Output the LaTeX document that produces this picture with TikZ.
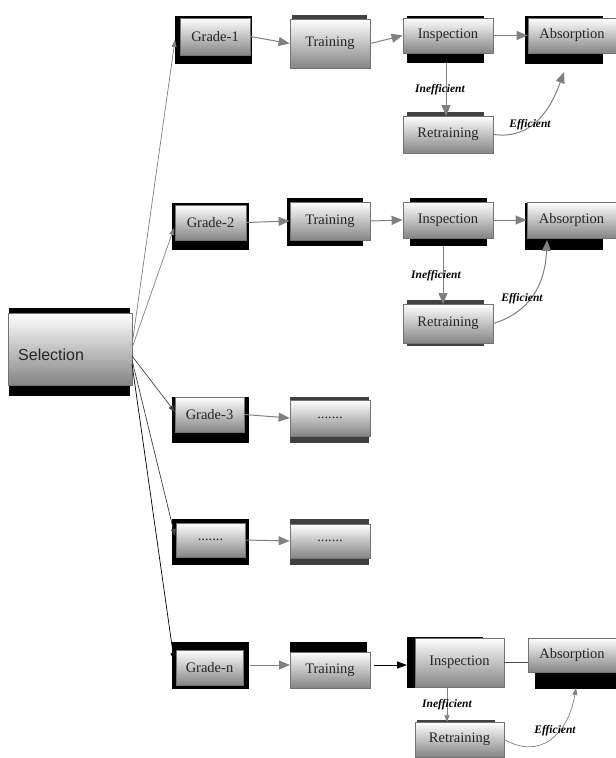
\documentclass[tikz,border=0pt]{standalone}
\usepackage{fontspec}
\setmainfont{Liberation Serif}
\newfontfamily\selfont{Liberation Sans}
\usetikzlibrary{arrows.meta}
\tikzset{
  front/.style={draw=black!55, line width=0.8pt, top color=white, bottom color=black!48, inner sep=0pt, font=\fontsize{14.5}{17}\selectfont, text=black!85},
  back/.style={fill=black},
  backg/.style={fill=black!75},
  conn/.style={draw=black!50, line width=1pt, -{Triangle[length=11pt,width=9pt]}},
  connb/.style={draw=black, line width=1pt, -{Triangle[length=10pt,width=7pt]}},
  thin/.style={draw=black!50, line width=0.7pt, -{Triangle[length=7pt,width=5pt]}},
  lab/.style={font=\fontsize{11.5}{13}\selectfont\bfseries\itshape, text=black, inner sep=1pt}
}
\newcommand\bx[6]{\node[front, minimum width={#4-#2}, minimum height={#5-#3}] (#1) at ({(#2+#4)/2},{(#3+#5)/2}) {#6};}
\begin{document}
\begin{tikzpicture}[x=1pt,y=-1pt]
\useasboundingbox (0,0) rectangle (616,758);
% ---------- Selection
\fill[back] (9,308) rectangle (130,396);
\bx{sel}{8}{313}{132}{385}{}
\node[anchor=west, font=\selfont\fontsize{16}{19}\selectfont, text=black!85, inner sep=0pt] (seltxt) at (18,355) {Selection};
% ---------- Row 1
\fill[back] (175,16) rectangle (252,64);
\bx{ga}{180}{18}{250}{55}{Grade-1}
\fill[backg] (292,15) rectangle (367,60);
\bx{ta}{290}{19}{370}{68}{Training}
\fill[back] (407,16) rectangle (484,63);
\bx{ia}{403}{18}{493}{53}{Inspection}
\fill[back] (525,16) rectangle (603,64);
\bx{aa}{528}{18}{616}{53}{Absorption}
\fill[backg] (407,112) rectangle (484,150);
\bx{ra}{403}{116}{493}{153}{Retraining}
\draw[conn] (ga.east) -- (ta.west);
\draw[conn] (ta.east) -- (ia.west);
\draw[conn] (ia.east) -- (aa.west);
\coordinate (ia1) at (446,63);
\coordinate (ra1) at (446,116);
\draw[conn] (ia1) -- (ra1);
\node[lab] (ineffa) at (440,90) {Inefficient};
\coordinate (aa1) at (564,72);
\draw[conn] (ra.east) .. controls (535,140) and (552,105) .. (aa1);
\node[lab] (effa) at (530,125) {Efficient};
% ---------- Row 2
\fill[back] (172,203) rectangle (249,250);
\bx{gb}{175}{205}{246}{240}{Grade-2}
\fill[back] (287,198) rectangle (363,246);
\bx{tb}{290}{202}{370}{240}{Training}
\fill[back] (410,198) rectangle (487,246);
\bx{ib}{403}{202}{493}{238}{Inspection}
\fill[back] (525,203) rectangle (603,250);
\bx{ab}{527}{202}{616}{238}{Absorption}
\fill[backg] (407,300) rectangle (484,346);
\bx{rb}{403}{304}{493}{343}{Retraining}
\draw[conn] (gb.east) -- (tb.west);
\draw[conn] (tb.east) -- (ib.west);
\draw[conn] (ib.east) -- (ab.west);
\coordinate (ib1) at (443,246);
\coordinate (rb1) at (443,304);
\draw[conn] (ib1) -- (rb1);
\node[lab] (ineffb) at (436,276) {Inefficient};
\coordinate (ab1) at (547,240);
\draw[conn] (rb.east) .. controls (530,312) and (545,285) .. (ab1);
\node[lab] (effb) at (522,299) {Efficient};
% ---------- Row 3
\fill[back] (172,397) rectangle (249,443);
\bx{gc}{175}{397}{244}{432}{Grade-3}
\fill[backg] (290,397) rectangle (369,443);
\bx{dc}{290}{400}{370}{436}{.......}
\draw[conn] (gc.east) -- (dc.west);
% ---------- Row 4
\fill[back] (172,519) rectangle (249,565);
\bx{gd}{176}{523}{245}{557}{.......}
\fill[backg] (290,519) rectangle (369,565);
\bx{dd}{290}{524}{370}{558}{.......}
\draw[conn] (gd.east) -- (dd.west);
% ---------- Row 5
\fill[back] (172,642) rectangle (249,689);
\bx{ge}{176}{650}{243}{685}{Grade-n}
\fill[back] (290,642) rectangle (367,682);
\bx{te}{290}{652}{370}{688}{Training}
\fill[back] (407,637) rectangle (483,688);
\bx{ie}{415}{638}{504}{687}{Inspection}
\fill[back] (535,672) rectangle (616,689);
\bx{ae}{528}{638}{616}{672}{Absorption}
\fill[backg] (417,720) rectangle (495,724);
\bx{re}{415}{722}{504}{757}{Retraining}
\coordinate (ge1) at (250,665);
\coordinate (te1) at (290,665);
\draw[conn] (ge1) -- (te1);
\coordinate (te2) at (374,665);
\coordinate (ie0) at (407,665);
\draw[connb] (te2) -- (ie0);
\coordinate (ie1) at (504,662);
\coordinate (ae1) at (528,662);
\draw[draw=black!70, line width=1pt] (ie1) -- (ae1);
\coordinate (ie2) at (447,688);
\coordinate (re1) at (447,722);
\draw[thin] (ie2) -- (re1);
\node[lab] (ineffe) at (447,705) {Inefficient};
\coordinate (ae2) at (576,688);
\draw[thin] (re.east) .. controls (540,760) and (568,735) .. (ae2);
\node[lab] (effe) at (555,731) {Efficient};
% ---------- Selection fan
\coordinate (s1) at (132,345);
\coordinate (s2) at (132,348);
\coordinate (s3) at (132,356);
\coordinate (s4) at (132,360);
\coordinate (s5) at (132,364);
\coordinate (e1) at (175,40);
\coordinate (e2) at (174,228);
\coordinate (e3) at (175,412);
\coordinate (e4) at (175,536);
\coordinate (e5) at (174,660);
\draw[thin] (s1) -- (e1);
\draw[thin] (s2) -- (e2);
\draw[thin, draw=black!75] (s3) -- (e3);
\draw[thin, draw=black!75] (s4) -- (e4);
\draw[thin, draw=black] (s5) -- (e5);
\end{tikzpicture}
\end{document}
